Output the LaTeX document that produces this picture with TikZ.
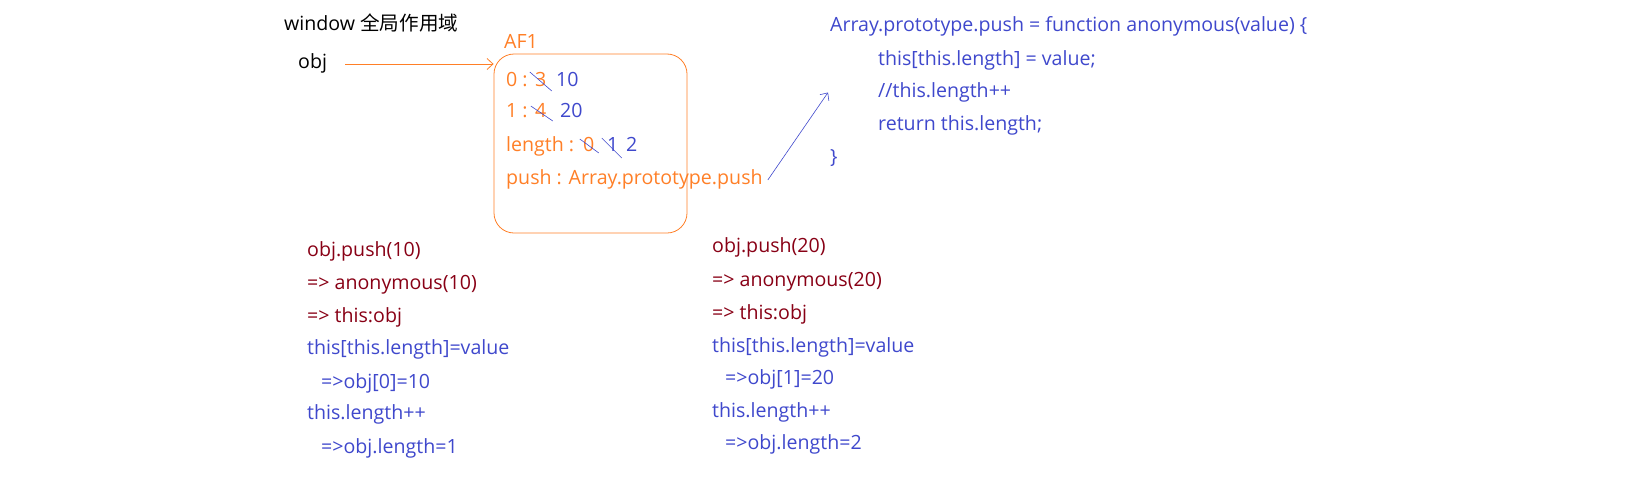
\documentclass[tikz,border=0pt]{standalone}
\usepackage{fontspec}
\setmainfont{Open Sans}
\newfontfamily\cjk{Noto Sans CJK SC}
\usetikzlibrary{arrows.meta}
\definecolor{paintorange}{RGB}{255,127,39}
\definecolor{paintblue}{RGB}{63,72,204}
\definecolor{paintred}{RGB}{136,0,21}
\tikzset{
  txt/.style={anchor=west, inner sep=0pt, text height=14pt, text depth=4.5pt,
    font=\fontsize{19.6}{24}\selectfont},
  org/.style={txt, text=paintorange},
  blu/.style={txt, text=paintblue},
  drk/.style={txt, text=paintred},
  strike/.style={draw=paintblue, line width=0.6pt},
  barb/.style={-{Straight Barb[length=6pt, width=11pt]}},
}

\begin{document}
\begin{tikzpicture}[x=1pt, y=-1pt]
    \useasboundingbox (0,0) rectangle (1648,498);
    \node[txt] (win) at (284,26) {window {\cjk 全局作用域}};
    \node[txt] (obj) at (298,64) {obj};
    \node[org] (af1name) at (504,44) {AF1};
    \node[draw=paintorange, line width=0.8pt, rounded corners=20pt, inner sep=0pt,
      minimum width=193pt, minimum height=179pt] (af1) at (590.5,143.5) {};
    \node[org] (k0) at (506,82) {0 :};
    \node[org] (v3) at (535,82) {3};
    \node[blu] (v10) at (556,82) {10};
    \node[org] (k1) at (506,113) {1 :};
    \node[org] (v4) at (535,113) {4};
    \node[blu] (v20) at (560,113) {20};
    \node[org] (klen) at (506,147) {length :};
    \node[org] (n0) at (583,147) {0};
    \node[blu] (n1) at (607,147) {1};
    \node[blu] (n2) at (626,147) {2};
    \node[org] (kpush) at (506,180) {push : Array.prototype.push};
    \draw[strike] ([shift={(-11,-10)}]v3.center) -- ([shift={(11,9)}]v3.center);
    \draw[strike] ([shift={(-10,-7)}]v4.center) -- ([shift={(12,8)}]v4.center);
    \draw[strike] ([shift={(-9,-8)}]n0.center) -- ([shift={(10,6)}]n0.center);
    \draw[strike] ([shift={(-11,-9)}]n1.center) -- ([shift={(9,11)}]n1.center);
    \draw[barb, draw=paintorange, line width=0.8pt] ([xshift=18pt]obj.east) -- (obj -| af1.west);

    \node[blu] (fn0) at (830,26.5) {Array.prototype.push = function anonymous(value) \{};
    \node[blu] (fn1) at (878,60.5) {this[this.length] = value;};
    \node[blu] (fn2) at (878,92.5) {//this.length++};
    \node[blu] (fn3) at (878,125.5) {return this.length;};
    \node[blu] (fn4) at (830,158.5) {\}};
    \draw[barb, draw=paintblue, line width=0.6pt] ([xshift=5pt]kpush.east) -- ([xshift=-2pt]fn0.west |- fn2.west);

    \node[drk] (a1) at (307,252) {obj.push(10)};
    \node[drk] (a2) at (307,285) {=> anonymous(10)};
    \node[drk] (a3) at (307,318) {=> this:obj};
    \node[blu] (a4) at (307,350) {this[this.length]=value};
    \node[blu] (a5) at (321,384) {=>obj[0]=10};
    \node[blu] (a6) at (307,415) {this.length++};
    \node[blu] (a7) at (321,449) {=>obj.length=1};

    \node[drk] (b1) at (712,248) {obj.push(20)};
    \node[drk] (b2) at (712,282) {=> anonymous(20)};
    \node[drk] (b3) at (712,315) {=> this:obj};
    \node[blu] (b4) at (712,348) {this[this.length]=value};
    \node[blu] (b5) at (725,380) {=>obj[1]=20};
    \node[blu] (b6) at (712,413) {this.length++};
    \node[blu] (b7) at (725,445) {=>obj.length=2};
\end{tikzpicture}
\end{document}
